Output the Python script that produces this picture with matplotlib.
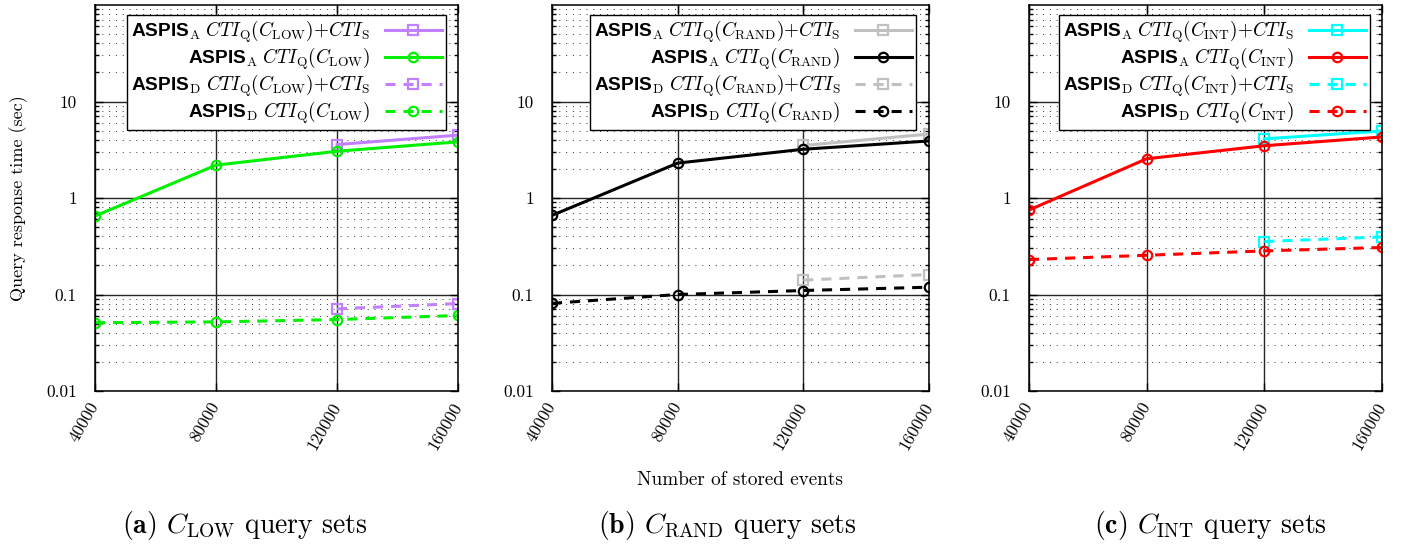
import matplotlib
matplotlib.use('Agg')
import matplotlib.pyplot as plt
from matplotlib.ticker import NullFormatter, LogLocator
from matplotlib.font_manager import FontProperties

plt.rcParams['mathtext.fontset'] = 'cm'
plt.rcParams['axes.unicode_minus'] = False
plt.rcParams['font.family'] = ['cmr10']
plt.rcParams['axes.formatter.use_mathtext'] = True

# ---------------- data ----------------
events = [40000, 80000, 120000, 160000]
events_s = [120000, 160000]
xtick_labels = ['40000', '80000', '120000', '160000']
ytick_vals = [0.01, 0.1, 1, 10]
ytick_labels = ['0.01', '0.1', '1', '10']

categories = ['LOW', 'RAND', 'INT']
panel_letters = ['a', 'b', 'c']

low_a_qs = [3.58, 4.48]
low_a_q = [0.65, 2.19, 3.05, 3.82]
low_d_qs = [0.071, 0.0806]
low_d_q = [0.051, 0.052, 0.055, 0.0606]

rand_a_qs = [3.5, 4.6]
rand_a_q = [0.66, 2.3, 3.2, 3.9]
rand_d_qs = [0.141, 0.161]
rand_d_q = [0.081, 0.1, 0.110, 0.119]

int_a_qs = [4.1, 4.95]
int_a_q = [0.75, 2.55, 3.48, 4.29]
int_d_qs = [0.354, 0.395]
int_d_q = [0.23, 0.255, 0.283, 0.307]

qs_colors = ['#c080ff', '#c0c0c0', '#00ffff']
q_colors = ['#00f000', '#000000', '#ff0000']

series = [
    (low_a_qs, low_a_q, low_d_qs, low_d_q),
    (rand_a_qs, rand_a_q, rand_d_qs, rand_d_q),
    (int_a_qs, int_a_q, int_d_qs, int_d_q),
]

# ---------------- layout ----------------
W, H = 1401, 547
fig = plt.figure(figsize=(W / 100, H / 100), dpi=100)

axes_px = [(95, 458), (552, 929), (1029, 1382)]
top_px, bot_px = 5, 391
legend_right_px = [446, 916, 1370]
caption_x = [245, 727, 1210]


def label(sysname, cat, with_s):
    s = r"ASPIS$_{\mathrm{%s}}$ $CTI_{\mathrm{Q}}(C_{\mathrm{%s}})" % (sysname, cat)
    if with_s:
        s += r"{+}CTI_{\mathrm{S}}"
    return s + "$"


leg_font = FontProperties(family='Liberation Sans', weight='bold', size=13.8)
dash = (3.3, 2.6)
lw = 2.2
ms = 6.8
mew = 1.6
tick_fs = 12.5

for i, ((l, r), cat, letter, data) in enumerate(zip(axes_px, categories, panel_letters, series)):
    ax = fig.add_axes([l / W, 1 - bot_px / H, (r - l) / W, (bot_px - top_px) / H])
    a_qs, a_q, d_qs, d_q = data
    cq, cqs = q_colors[i], qs_colors[i]

    ax.plot(events_s, a_qs, color=cqs, lw=lw, marker='s', ms=ms, mew=mew, mfc='none',
            label=label('A', cat, True))
    ax.plot(events, a_q, color=cq, lw=lw, marker='o', ms=ms, mew=mew, mfc='none',
            label=label('A', cat, False))
    ax.plot(events_s, d_qs, color=cqs, lw=lw, marker='s', ms=ms, mew=mew, mfc='none',
            dashes=dash, label=label('D', cat, True))
    ax.plot(events, d_q, color=cq, lw=lw, marker='o', ms=ms, mew=mew, mfc='none',
            dashes=dash, label=label('D', cat, False))

    ax.set_yscale('log')
    ax.set_ylim(0.01, 100)
    ax.set_xlim(events[0], events[-1])
    ax.yaxis.set_minor_locator(LogLocator(base=10, subs=range(2, 10), numticks=20))
    ax.yaxis.set_minor_formatter(NullFormatter())

    ax.set_axisbelow(True)
    ax.grid(True, which='major', axis='both', color='0.15', lw=1.0, ls='-')
    ax.grid(True, which='minor', axis='y', color='0.2', lw=0.7, ls=(0, (1, 6)))
    for sp in ax.spines.values():
        sp.set_linewidth(1.1)

    ax.tick_params(which='both', direction='in', top=True, right=True, width=1)
    ax.tick_params(which='major', length=6)
    ax.tick_params(which='minor', length=3)
    ax.tick_params(axis='y', which='major', pad=13)
    ax.tick_params(axis='x', which='major', pad=9)

    ax.set_yticks(ytick_vals, ytick_labels, fontsize=tick_fs, fontfamily='cmr10')
    ax.set_xticks(events, xtick_labels, fontsize=tick_fs, fontfamily='cmr10',
                  rotation=60, ha='right', va='center', rotation_mode='anchor')

    w_ax = r - l
    h_ax = bot_px - top_px
    anchor = (1 - (r - legend_right_px[i]) / w_ax, 1 - 10 / h_ax)
    leg = ax.legend(loc='upper right', bbox_to_anchor=anchor, borderaxespad=0,
                    prop=leg_font, markerfirst=False, fancybox=False, framealpha=1,
                    edgecolor='black', handlelength=3.0, handletextpad=0.75,
                    borderpad=0.2, labelspacing=0.02)
    leg.get_frame().set_linewidth(1.0)
    try:
        for col in leg._legend_box.get_children()[1].get_children():
            col.align = 'right'
    except Exception:
        pass

    if i == 0:
        ax.set_ylabel('Query response time (sec)', family='cmr10', fontsize=13)
        ax.yaxis.set_label_coords((28 - l) / w_ax, 0.5)

    fig.text(caption_x[i] / W, 1 - 525 / H,
             r"$\mathbf{(%s)}$ $C_{\mathrm{%s}}$ query sets" % (letter, cat),
             family='cmr10', fontsize=20, ha='center', va='center')

fig.text(740 / W, 1 - 480 / H, 'Number of stored events', family='cmr10', fontsize=13.8,
         ha='center', va='center')

fig.savefig('out.png', dpi=100)
